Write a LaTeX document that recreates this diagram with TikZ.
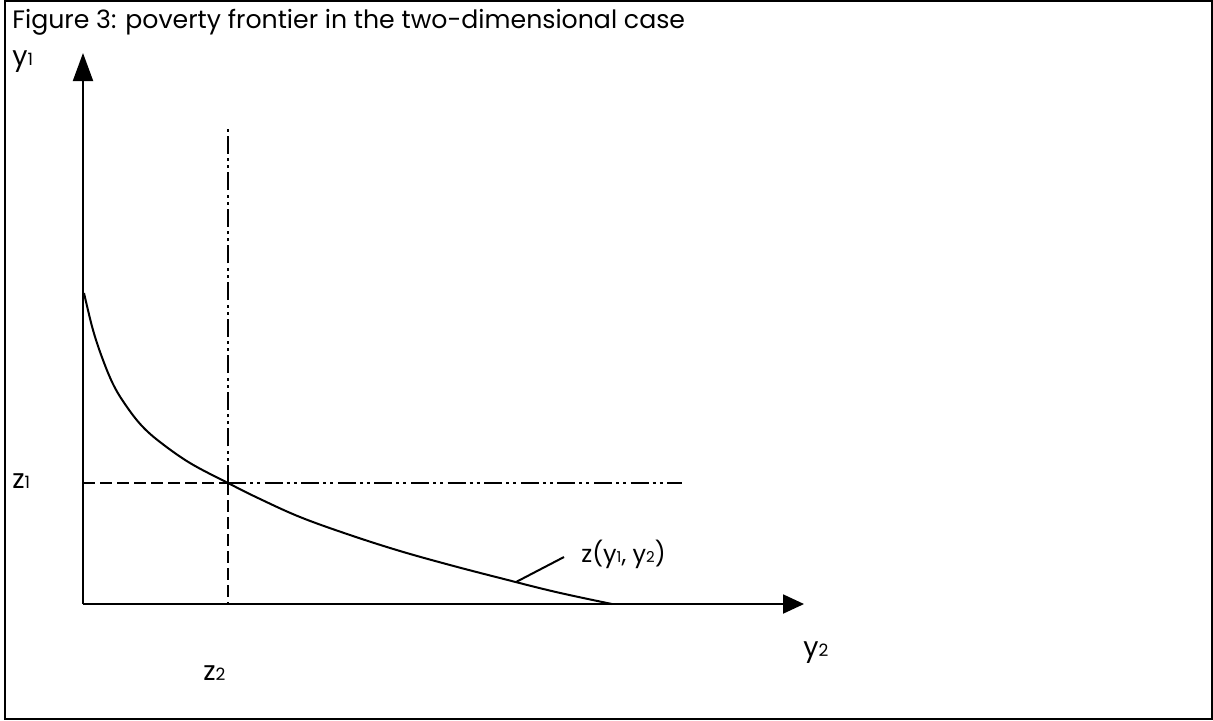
\documentclass[tikz,border=0pt]{standalone}
\usepackage{fontspec}
\setmainfont{Poppins}
\usetikzlibrary{arrows.meta}
\newcommand{\sbs}[1]{{\fontsize{7.5}{8}\selectfont #1}}
\newcommand{\sbb}[1]{{\fontsize{8.5}{9}\selectfont #1}}
\begin{document}
\begin{tikzpicture}[x=0.5pt,y=-0.5pt,
  axisY/.style={line width=1pt,-{Triangle[length=14pt,width=10pt]}},
  axisX/.style={line width=1pt,-{Triangle[length=10.5pt,width=9.5pt]}},
  lbl/.style={inner sep=0pt,anchor=base west,font=\fontsize{12}{14}\selectfont},
  biglbl/.style={inner sep=0pt,anchor=base west,font=\fontsize{13.5}{15}\selectfont},
  ttl/.style={inner sep=0pt,anchor=base west,font=\fontsize{12.6}{15}\selectfont},
  ddot/.style={line width=1pt,dash pattern=on 9pt off 2pt on 1.5pt off 2pt on 1.5pt off 2.3pt},
  dsh/.style={line width=1pt,dash pattern=on 6pt off 2.5pt},
  curve/.style={line width=1pt}]
\useasboundingbox (0,0) rectangle (1213,720);
\draw[line width=1pt] (5,1) rectangle (1212,719);
% title
\node[ttl] (title) at (12,28) {Figure 3: poverty frontier in the two-dimensional case};
% axes
\coordinate (O) at (83,604);
\coordinate (Ytip) at (83,53);
\coordinate (Xtip) at (804,604);
\draw[axisY] (O) -- (Ytip);
\draw[axisX] (O) -- (Xtip);
% poverty lines
\coordinate (Z) at (228,483);
\coordinate (Ztop) at (228,125);
\coordinate (Zbot) at (228,604);
\coordinate (Zleft) at (83,483);
\coordinate (Zright) at (682,483);
\draw[dsh] (Zleft) -- (Z);
\draw[ddot] (Z) -- (Zright);
\draw[ddot] (Z) -- (Ztop);
\draw[dsh] (Z) -- (Zbot);
% frontier curve
\draw[curve] plot[smooth,tension=0.6] coordinates {(84,293) (93,330) (103,360) (114,386) (127,407) (142,426) (160,442) (190,463) (228,483) (258,498) (300,517) (350,535) (400,551) (450,565) (500,578) (556,592) (612,604)};
% leader and labels
\coordinate (leadA) at (516,582);
\coordinate (leadB) at (564,557);
\draw[line width=1pt] (leadA) -- (leadB);
\node[lbl] (zlab) at (581,562) {z(y\sbs{1}, y\sbs{2})};
\node[biglbl] (y1) at (12,65) {y\sbb{1}};
\node[biglbl] (z1) at (12,488) {z\sbb{1}};
\node[biglbl] (z2) at (203,680) {z\sbb{2}};
\node[biglbl] (y2) at (803,656) {y\sbb{2}};
\end{tikzpicture}
\end{document}
